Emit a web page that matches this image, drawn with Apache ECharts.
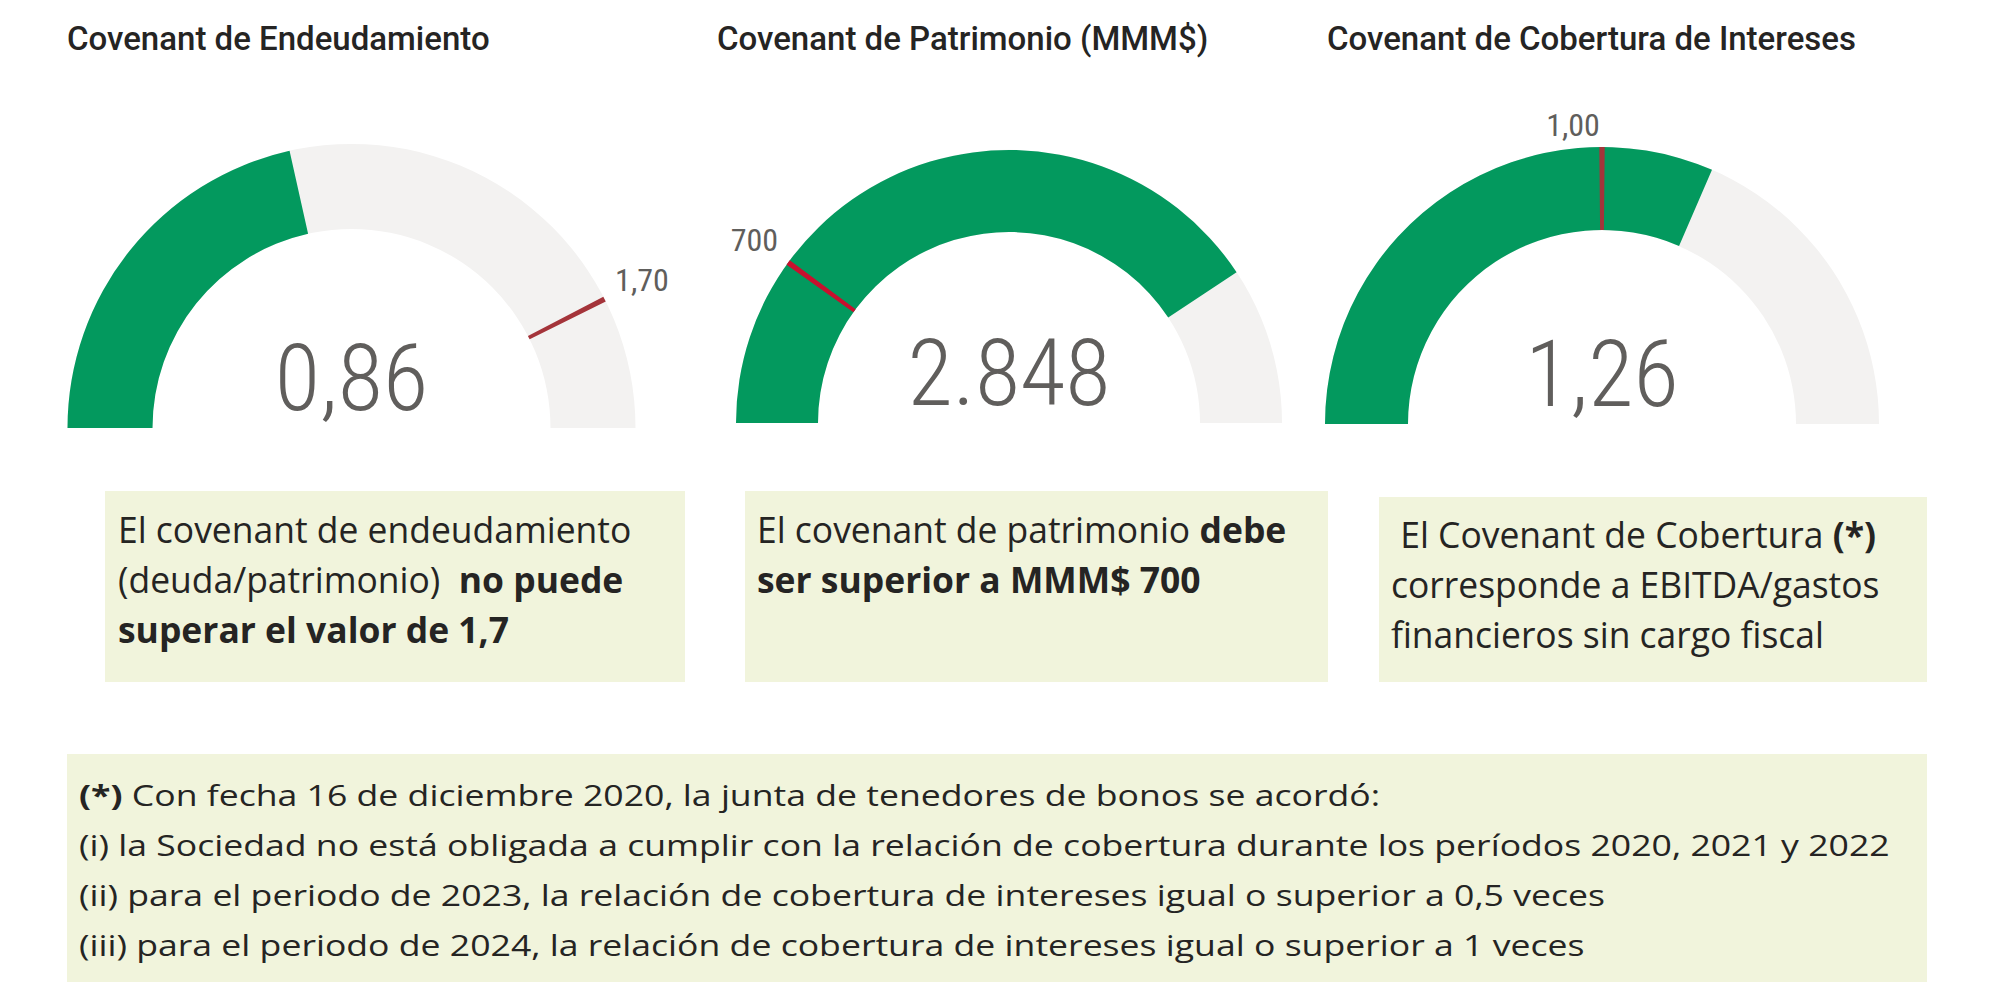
<!DOCTYPE html>
<html>
<head>
<meta charset="utf-8">
<script src="https://cdn.jsdelivr.net/npm/echarts@6/dist/echarts.min.js"></script>
<style>
html,body{margin:0;padding:0;background:#ffffff;}
#c{width:2000px;height:1000px;}
</style>
</head>
<body>
<div id="c"></div>
<script>
// ---------------- DATA ----------------
const gaugeTitles = ['Covenant de Endeudamiento', 'Covenant de Patrimonio (MMM$)', 'Covenant de Cobertura de Intereses'];
const gaugeValues = [0.86, 2848, 1.26];
const gaugeTargets = [1.70, 700, 1.00];
const gaugeMin = [0, 0, 0];
const gaugeMax = [2, 3500, 2];
const valueDecimals = [2, 0, 2];
const targetTickCount = [20, 5, 2];

const box1Lines = [
  [['El covenant de endeudamiento', 0]],
  [['(deuda/patrimonio)\u00A0\u00A0', 0], ['no puede', 1]],
  [['superar el valor de 1,7', 1]]
];
const box2Lines = [
  [['El covenant de patrimonio\u00A0', 0], ['debe', 1]],
  [['ser superior a MMM$ 700', 1]]
];
const box3Lines = [
  [['\u00A0El Covenant de Cobertura\u00A0', 0], ['(*)', 1]],
  [['corresponde a EBITDA/gastos', 0]],
  [['financieros sin cargo fiscal', 0]]
];
const noteLines = [
  [['(*)', 1], ['\u00A0Con fecha 16 de diciembre 2020, la junta de tenedores de bonos se acordó:', 0]],
  [['(i) la Sociedad no está obligada a cumplir con la relación de cobertura durante los períodos 2020, 2021 y 2022', 0]],
  [['(ii) para el periodo de 2023, la relación de cobertura de intereses igual o superior a 0,5 veces', 0]],
  [['(iii) para el periodo de 2024, la relación de cobertura de intereses igual o superior a 1 veces', 0]]
];

// ---------------- STYLE / LAYOUT ----------------
const GREEN = '#03995E';
const TRACK = '#F3F2F1';
const VALUE_COLOR = '#605E5C';
const TEXT_COLOR = '#252423';
const BOX_FILL = '#F1F4DC';
const NUM_FONT = "'Roboto Condensed', 'DejaVu Sans Condensed', Roboto, sans-serif";
const TITLE_FONT = "Roboto, 'DejaVu Sans', sans-serif";
const BODY_FONT = "'Open Sans', 'Noto Sans', sans-serif";

const gaugeLayout = [
  {cx: 351.5, cy: 428, r: 284, w: 85, labelDist: -42, labelPad: [0, 0, 0, 0], targetColor: '#A4343A', titleX: 67},
  {cx: 1009, cy: 423, r: 273, w: 82, labelDist: -38, labelPad: [26, 6, 0, 0], targetColor: '#C8102E', titleX: 717},
  {cx: 1602, cy: 424, r: 277, w: 83, labelDist: -22, labelPad: [0, 58, 0, 0], targetColor: '#A4343A', titleX: 1327}
];
const boxLayout = [
  {x: 105, y: 491, w: 580, h: 191, tx: 118, base: [541.7, 591.7, 641.7], fs: 36, sx: 0.985, lines: box1Lines},
  {x: 745, y: 491, w: 583, h: 191, tx: 757, base: [541.7, 591.7], fs: 36, sx: 0.985, lines: box2Lines},
  {x: 1379, y: 497, w: 548, h: 185, tx: 1391, base: [546.7, 597, 646.7], fs: 36, sx: 0.985, lines: box3Lines},
  {x: 67, y: 754, w: 1860, h: 228, tx: 79, base: [805, 855, 905, 955], fs: 29, sx: 1.228, lines: noteLines}
];

function fmt(v, d) {
  const s = Number(v).toFixed(d);
  const parts = s.split('.');
  const i = parts[0].replace(/\B(?=(\d{3})+(?!\d))/g, '.');
  return parts[1] ? i + ',' + parts[1] : i;
}

const series = [];
gaugeValues.forEach((val, k) => {
  const L = gaugeLayout[k];
  const common = {
    type: 'gauge', center: [L.cx, L.cy], radius: L.r,
    startAngle: 180, endAngle: 0, min: gaugeMin[k], max: gaugeMax[k],
    pointer: {show: false}, anchor: {show: false}, axisTick: {show: false},
    title: {show: false}, animation: false, silent: true
  };
  series.push(Object.assign({}, common, {
    z: 2,
    axisLine: {lineStyle: {width: L.w, color: [[1, TRACK]]}},
    progress: {show: true, width: L.w, roundCap: false, itemStyle: {color: GREEN}},
    splitLine: {show: false}, axisLabel: {show: false},
    detail: {
      show: true, valueAnimation: false, offsetCenter: [0, -50],
      fontSize: 93, fontFamily: NUM_FONT, fontWeight: 300, color: VALUE_COLOR,
      formatter: v => fmt(v, valueDecimals[k])
    },
    data: [{value: val}]
  }));
  const t = gaugeTargets[k];
  const f = (t - gaugeMin[k]) / (gaugeMax[k] - gaugeMin[k]);
  const hw = 2.3 / (Math.PI * (L.r - L.w / 2));
  series.push(Object.assign({}, common, {
    z: 6,
    splitNumber: targetTickCount[k],
    axisLine: {lineStyle: {width: L.w, color: [[f - hw, 'rgba(0,0,0,0)'], [f + hw, L.targetColor], [1, 'rgba(0,0,0,0)']]}},
    progress: {show: false},
    splitLine: {show: false, length: 0, distance: 0},
    axisLabel: {
      show: true, distance: L.labelDist, rotate: 0.0001,
      fontSize: 32, fontFamily: NUM_FONT, fontWeight: 'normal', color: VALUE_COLOR, padding: L.labelPad,
      formatter: v => (Math.abs(v - t) < 1e-9 ? fmt(t, valueDecimals[k] === 0 ? 0 : 2) : '')
    },
    detail: {show: false},
    data: [{value: t}]
  }));
});

const graphics = [];
gaugeTitles.forEach((tt, k) => {
  graphics.push({
    type: 'text', x: gaugeLayout[k].titleX, y: 38,
    style: {text: tt, fontSize: 33, fontFamily: TITLE_FONT, fontWeight: 500, fill: TEXT_COLOR, verticalAlign: 'middle', align: 'left'}
  });
});
boxLayout.forEach(B => {
  graphics.push({type: 'rect', shape: {x: B.x, y: B.y, width: B.w, height: B.h}, style: {fill: BOX_FILL}, silent: true});
  B.lines.forEach((segs, i) => {
    const txt = segs.map(s => '{' + (s[1] ? 'b' : 'n') + '|' + s[0] + '}').join('');
    graphics.push({
      type: 'text', x: B.tx, y: B.base[i] - B.fs * 0.36, scaleX: B.sx,
      style: {
        text: txt, verticalAlign: 'middle', align: 'left',
        fontFamily: BODY_FONT, fontSize: B.fs, fill: TEXT_COLOR,
        rich: {
          n: {fontFamily: BODY_FONT, fontSize: B.fs, fontWeight: 'normal', fill: TEXT_COLOR, lineHeight: B.fs},
          b: {fontFamily: BODY_FONT, fontSize: B.fs, fontWeight: 'bold', fill: TEXT_COLOR, lineHeight: B.fs}
        }
      }
    });
  });
});

const chart = echarts.init(document.getElementById('c'), null, {renderer: 'svg', width: 2000, height: 1000});
chart.setOption({
  backgroundColor: '#ffffff',
  animation: false,
  series: series,
  graphic: {elements: graphics}
});
</script>
</body>
</html>
